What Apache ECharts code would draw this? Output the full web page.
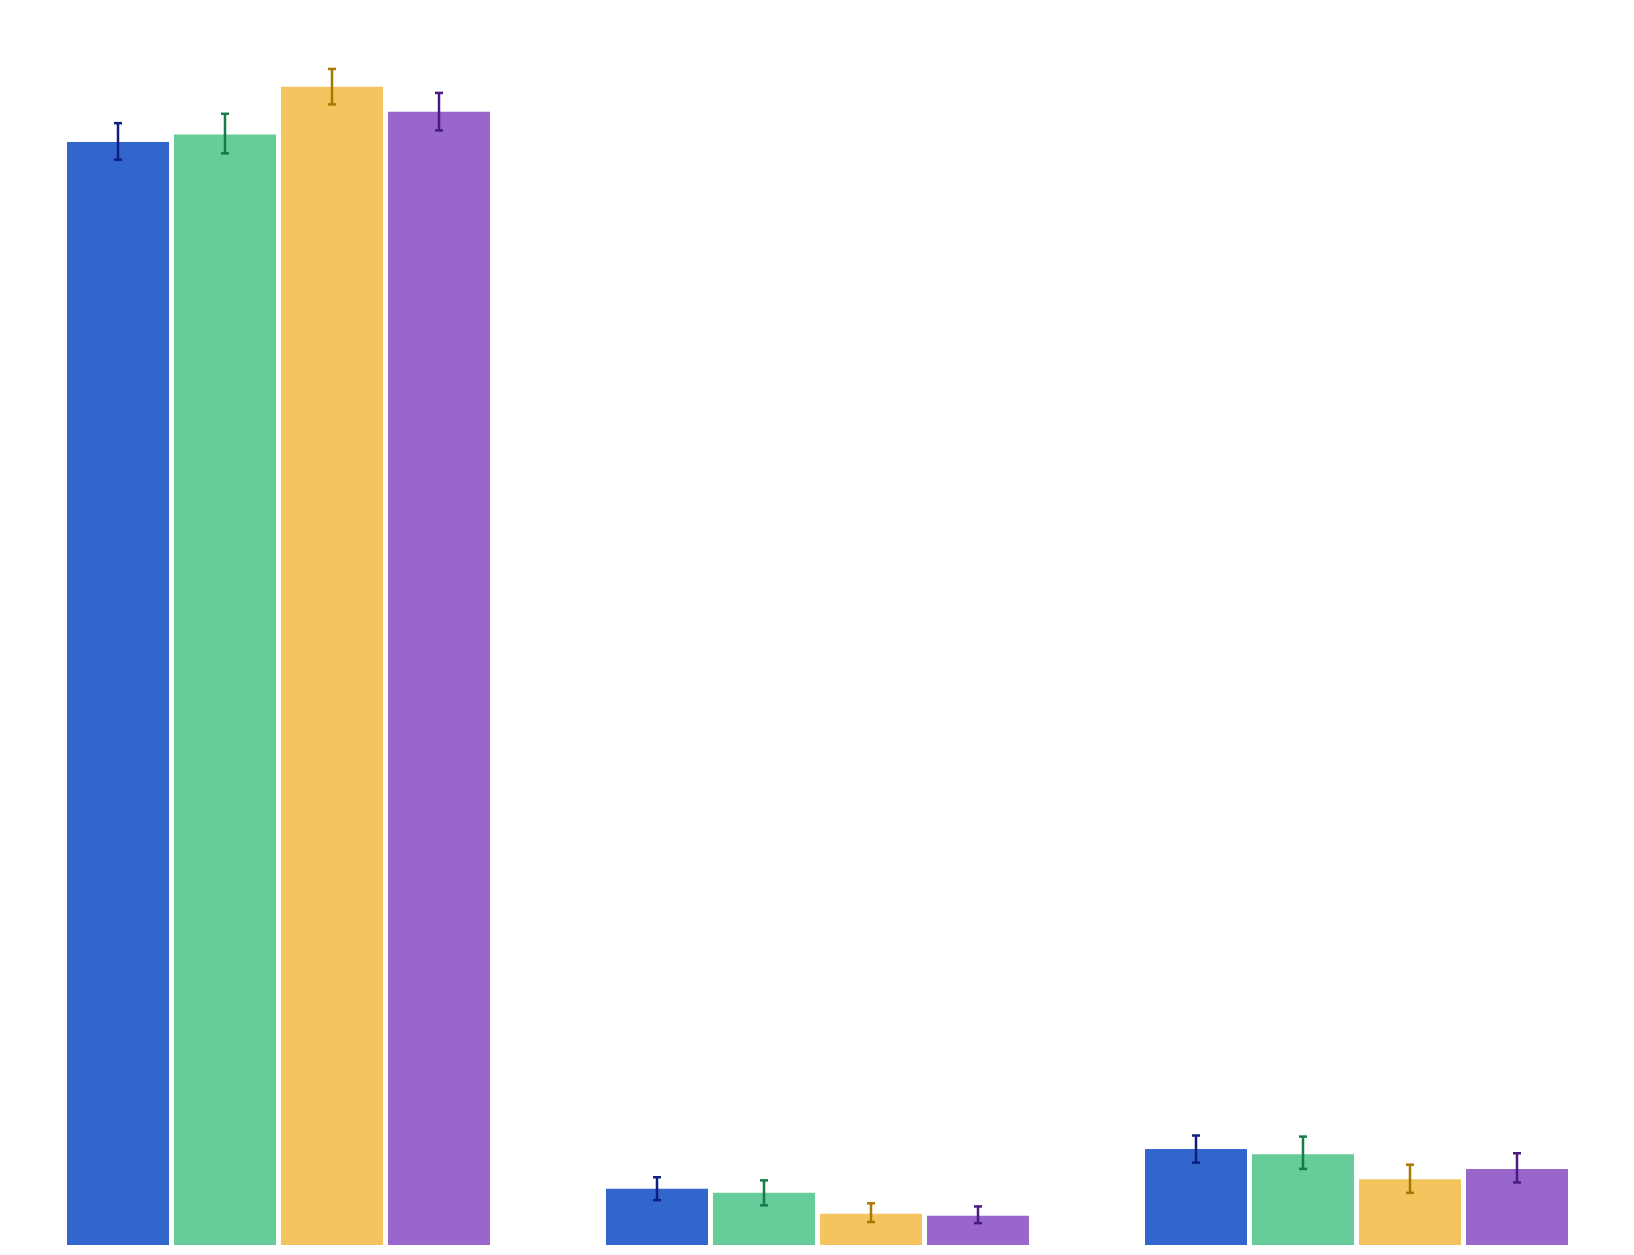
<!DOCTYPE html>
<html>
<head>
<meta charset="utf-8">
<script src="https://cdn.jsdelivr.net/npm/echarts@6/dist/echarts.min.js"></script>
<style>html,body{margin:0;padding:0;background:#fff}#chart{width:1634px;height:1255px}</style>
</head>
<body>
<div id="chart"></div>
<script>
var categories = ['A', 'B', 'C'];
var seriesNames = ['S1', 'S2', 'S3', 'S4'];
var values = [
    [1058, 54, 92],
    [1065, 50, 87],
    [1111, 30, 63],
    [1087, 28, 73]
];
var errLow = [
    [1041, 43, 79],
    [1047, 38, 73],
    [1094, 22, 50],
    [1069, 21, 60]
];
var errHigh = [
    [1076, 65, 105],
    [1085, 62, 104],
    [1128, 40, 77],
    [1105, 37, 88]
];
var barColors = ['#3366cc', '#66cc99', '#f4c55e', '#9966cc'];
var errColors = ['#0d1f80', '#167a4a', '#a87800', '#4a1a80'];

var BAR_W = 102, GAP = 5;
var series = [];
seriesNames.forEach(function (name, i) {
    series.push({
        name: name, type: 'bar', data: values[i], barWidth: BAR_W, barGap: (GAP / BAR_W * 100) + '%',
        itemStyle: { color: barColors[i] }, silent: true
    });
});
seriesNames.forEach(function (name, i) {
    var data = categories.map(function (c, j) { return [j, errLow[i][j], errHigh[i][j]]; });
    series.push({
        type: 'custom', data: data, z: 10, silent: true,
        renderItem: function (params, api) {
            var off = (i - 1.5) * (BAR_W + GAP);
            var lo = api.coord([api.value(0), api.value(1)]);
            var hi = api.coord([api.value(0), api.value(2)]);
            var x = lo[0] + off, cap = 4;
            var st = { stroke: errColors[i], lineWidth: 2.5 };
            return {
                type: 'group', children: [
                    { type: 'line', shape: { x1: x, y1: lo[1], x2: x, y2: hi[1] }, style: st },
                    { type: 'line', shape: { x1: x - cap, y1: lo[1], x2: x + cap, y2: lo[1] }, style: st },
                    { type: 'line', shape: { x1: x - cap, y1: hi[1], x2: x + cap, y2: hi[1] }, style: st }
                ]
            };
        }
    });
});

var chart = echarts.init(document.getElementById('chart'));
chart.setOption({
    animation: false,
    grid: { left: 9, right: 8, top: 46, bottom: 10 },
    xAxis: { type: 'category', data: categories, show: false },
    yAxis: { type: 'value', min: 0, max: 1150, show: false },
    series: series
});
</script>
</body>
</html>
